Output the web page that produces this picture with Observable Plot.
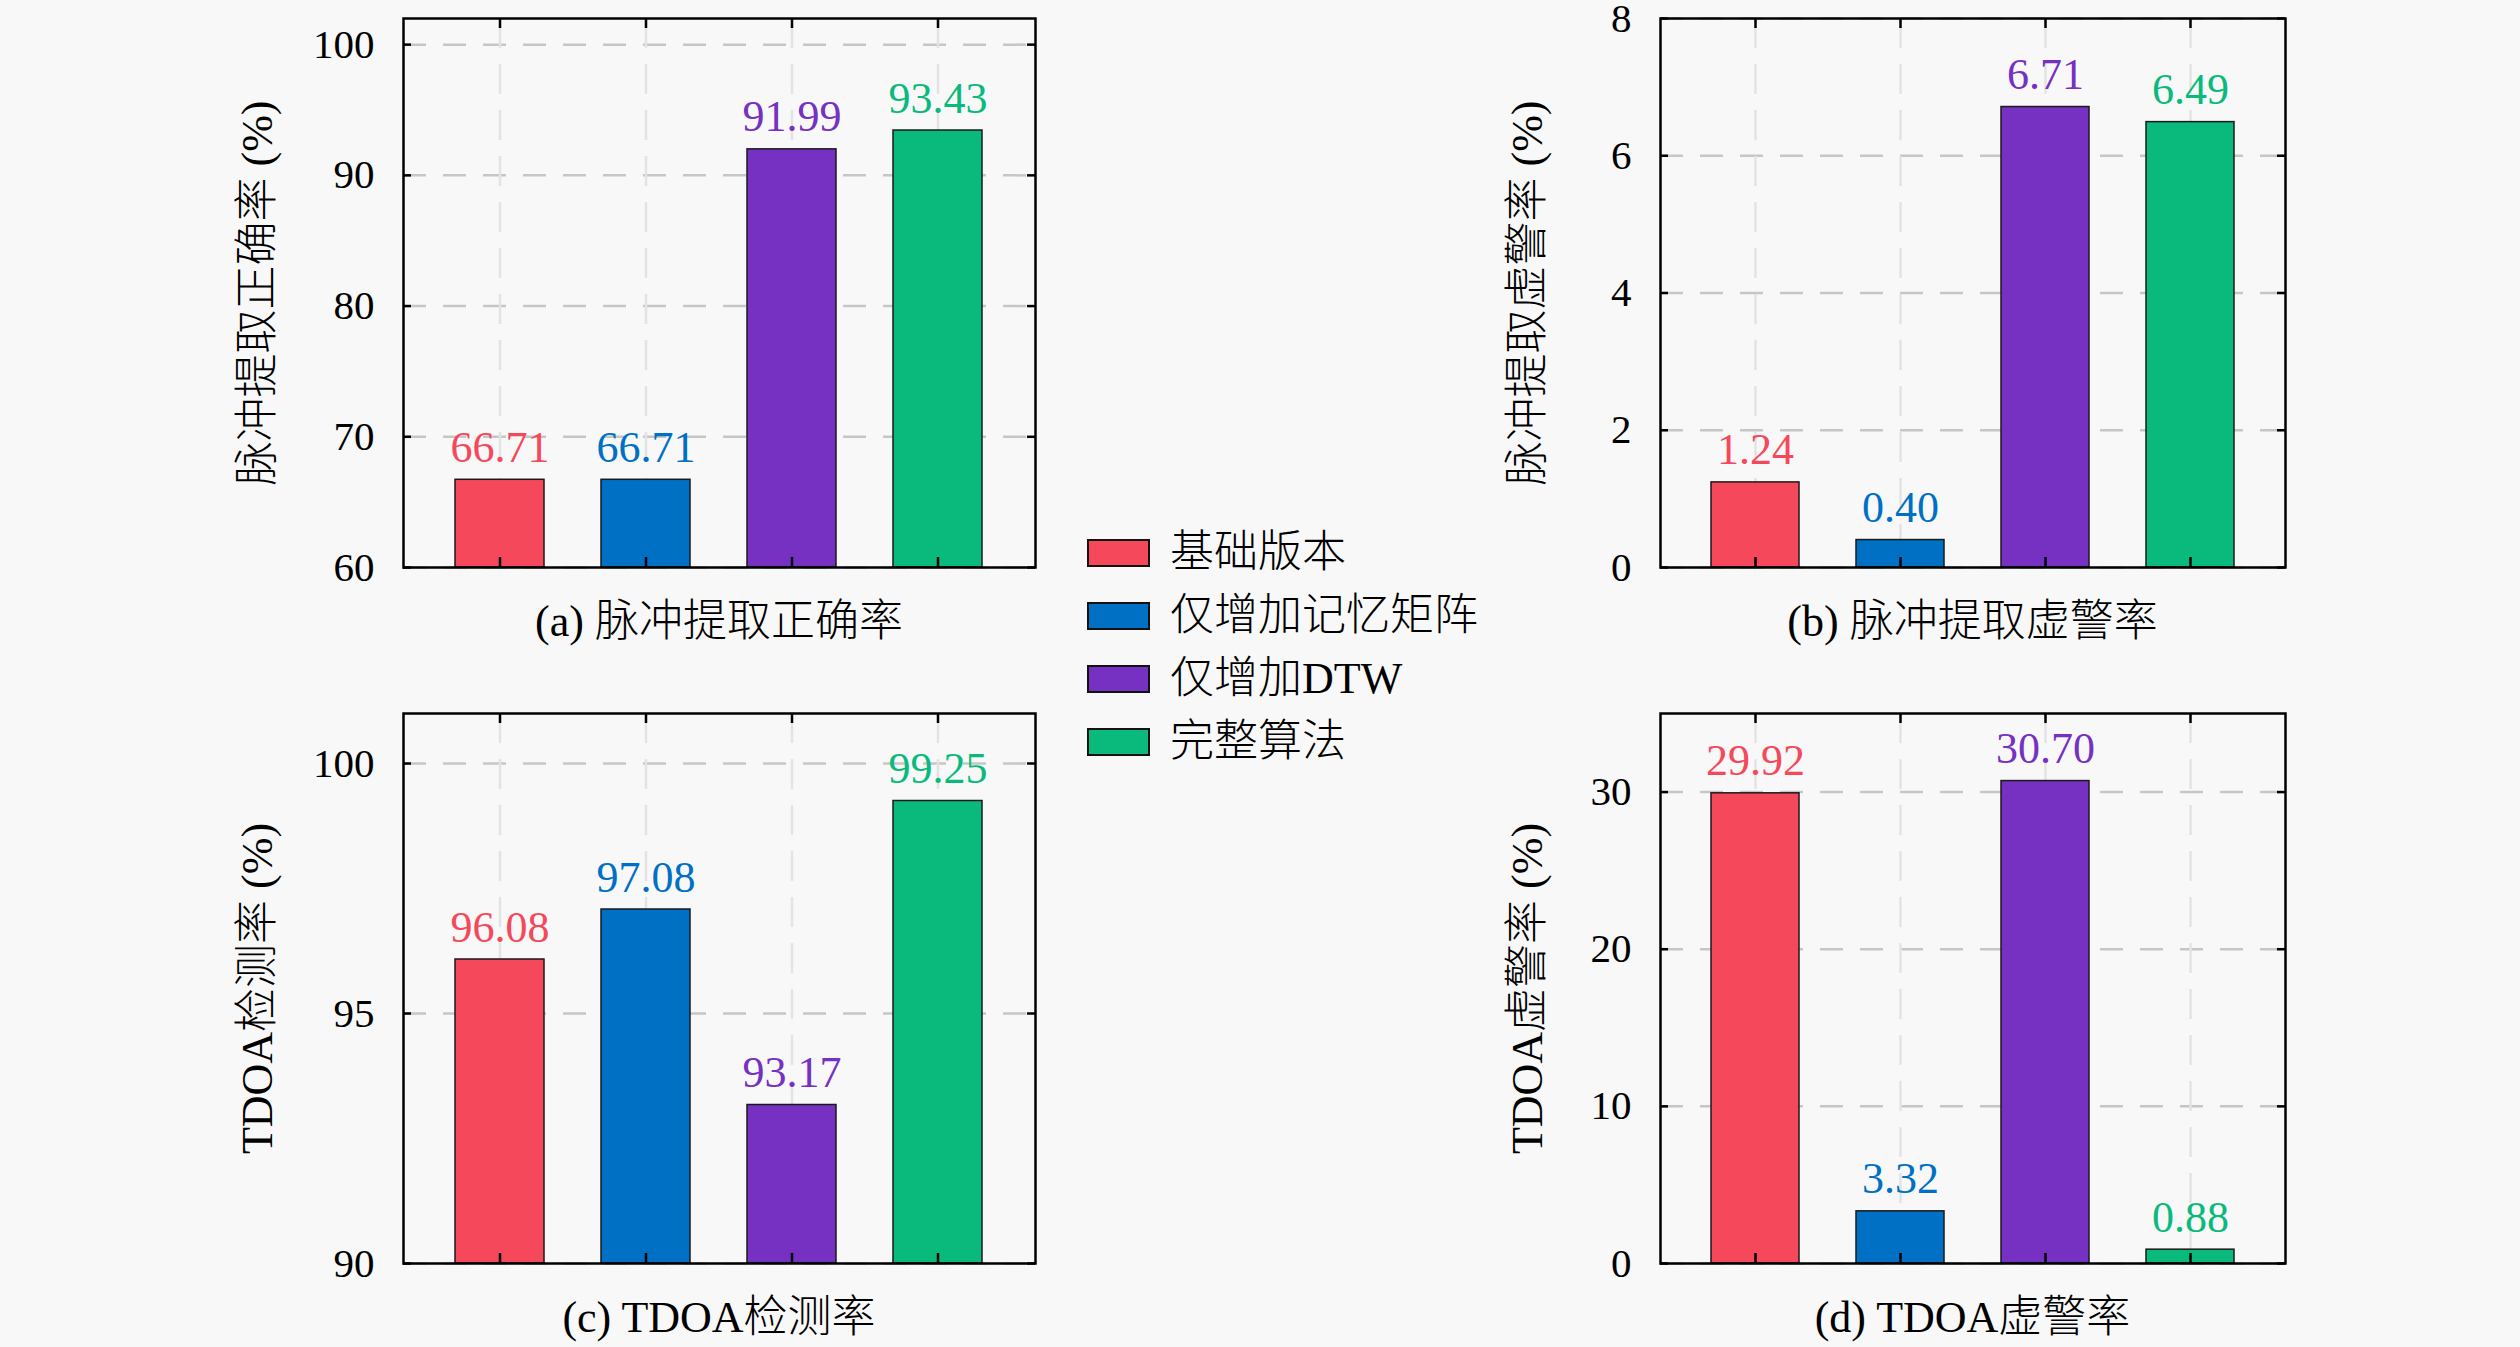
<!DOCTYPE html>
<html>
<head>
<meta charset="utf-8">
<script src="https://cdn.jsdelivr.net/npm/d3@7"></script>
<script src="https://cdn.jsdelivr.net/npm/@observablehq/plot@0.6"></script>
<style>
  html, body { margin: 0; padding: 0; background: #f8f8f8; }
  #root { position: relative; width: 2520px; height: 1347px; overflow: hidden; background: #f8f8f8;
          font-family: 'Liberation Serif', 'Noto Sans CJK SC', serif; color: #000; font-weight: 300; }
  .panel { position: absolute; }
  .caption { position: absolute; transform: translate(-50%, -50%); font-size: 44px; line-height: 1; white-space: nowrap; }
  .legend { position: absolute; left: 1087px; top: 0; }
  .legend .row { position: absolute; left: 0; display: flex; align-items: center; transform: translateY(-50%); white-space: nowrap; }
  .legend .sw { width: 63px; height: 28px; box-sizing: border-box; border: 2px solid #111; margin-right: 20px; }
  .legend .lb { font-size: 44px; line-height: 1; }
</style>
</head>
<body>
<div id="root"></div>
<script>
// ---- data ----
const categories = ["基础版本", "仅增加记忆矩阵", "仅增加DTW", "完整算法"];
const colors = ["#f5485b", "#0070c4", "#7630c2", "#0aba7c"];

const accuracyValues = [66.71, 66.71, 91.99, 93.43];
const falseAlarmValues = [1.24, 0.40, 6.71, 6.49];
const tdoaDetectValues = [96.08, 97.08, 93.17, 99.25];
const tdoaFalseValues = [29.92, 3.32, 30.70, 0.88];

const ticksA = [60, 70, 80, 90, 100];
const ticksB = [0, 2, 4, 6, 8];
const ticksC = [90, 95, 100];
const ticksD = [0, 10, 20, 30];

const domainA = [60, 102];
const domainB = [0, 8];
const domainC = [90, 101];
const domainD = [0, 35];

const yLabels = ["脉冲提取正确率 (%)", "脉冲提取虚警率 (%)", "TDOA检测率 (%)", "TDOA虚警率 (%)"];
const captions = ["(a) 脉冲提取正确率", "(b) 脉冲提取虚警率", "(c) TDOA检测率", "(d) TDOA虚警率"];

// ---- layout ----
const FONT = "'Liberation Serif', 'Noto Sans CJK SC', serif";
const ML = 200, MR = 20, MT = 24, MB = 30;
const panels = [
  {values: accuracyValues, domain: domainA, ticks: ticksA, left: 403, top: 18, fw: 632, fh: 549},
  {values: falseAlarmValues, domain: domainB, ticks: ticksB, left: 1660, top: 18, fw: 625, fh: 549},
  {values: tdoaDetectValues, domain: domainC, ticks: ticksC, left: 403, top: 713, fw: 632, fh: 550},
  {values: tdoaFalseValues, domain: domainD, ticks: ticksD, left: 1660, top: 713, fw: 625, fh: 550}
];
const captionY = [622, 622, 1318, 1318];
const yLabelX = [257, 1527, 257, 1527];

const root = document.getElementById("root");

panels.forEach((p, i) => {
  const data = categories.map((c, k) => ({cat: c, value: p.values[k]}));
  const black = {stroke: "#000", strokeWidth: 2.5};
  const chart = Plot.plot({
    width: ML + p.fw + MR,
    height: MT + p.fh + MB,
    marginLeft: ML, marginRight: MR, marginTop: MT, marginBottom: MB,
    style: {background: "transparent", fontFamily: FONT, fontSize: "41px", color: "#000", overflow: "visible", fontWeight: 300},
    x: {domain: categories, paddingInner: 0.39, paddingOuter: 0.35, axis: null},
    y: {domain: p.domain},
    color: {domain: categories, range: colors},
    marks: [
      Plot.gridY(p.ticks, {stroke: "#c6c6c6", strokeOpacity: 1, strokeWidth: 2.5, strokeDasharray: "23,17"}),
      Plot.ruleX(categories, {x: d => d, stroke: "#e3e3e3", strokeWidth: 2.5, strokeDasharray: "30,16"}),
      Plot.barY(data, {x: "cat", y1: p.domain[0], y2: "value", fill: "cat", stroke: "#1a1a1a", strokeWidth: 1.5}),
      Plot.text(data, {x: "cat", y: "value", text: d => d.value.toFixed(2), fill: "cat",
                       dy: -32, lineAnchor: "middle", fontSize: 44, fontFamily: FONT}),
      Plot.axisY(p.ticks, {tickSize: 0, tickPadding: 29, fontSize: 41, fontFamily: FONT,
                           tickFormat: d => String(d), label: null}),
      Plot.text([yLabels[i]], {frameAnchor: "left", text: d => d, rotate: -90, dx: yLabelX[i] - p.left,
                               textAnchor: "middle", lineAnchor: "middle", fontSize: 44, fontFamily: FONT, fill: "#000"}),
      Plot.ruleY(p.ticks, {y: d => d, insetRight: p.fw - 8, ...black}),
      Plot.ruleY(p.ticks, {y: d => d, insetLeft: p.fw - 8, ...black}),
      Plot.ruleX(categories, {x: d => d, insetBottom: p.fh - 10, ...black}),
      Plot.ruleX(categories, {x: d => d, insetTop: p.fh - 10, ...black}),
      Plot.frame({stroke: "#000", strokeWidth: 2.5})
    ]
  });
  chart.classList.add("panel");
  chart.style.left = (p.left - ML) + "px";
  chart.style.top = (p.top - MT) + "px";
  root.appendChild(chart);

  const cap = document.createElement("div");
  cap.className = "caption";
  cap.textContent = captions[i];
  cap.style.left = (p.left + p.fw / 2) + "px";
  cap.style.top = captionY[i] + "px";
  root.appendChild(cap);
});

// legend
const legend = document.createElement("div");
legend.className = "legend";
const legendY = [553, 616, 679, 742];
categories.forEach((c, k) => {
  const row = document.createElement("div");
  row.className = "row";
  row.style.top = legendY[k] + "px";
  const sw = document.createElement("div");
  sw.className = "sw";
  sw.style.background = colors[k];
  const lb = document.createElement("span");
  lb.className = "lb";
  lb.textContent = c;
  row.appendChild(sw);
  row.appendChild(lb);
  legend.appendChild(row);
});
root.appendChild(legend);
</script>
</body>
</html>
